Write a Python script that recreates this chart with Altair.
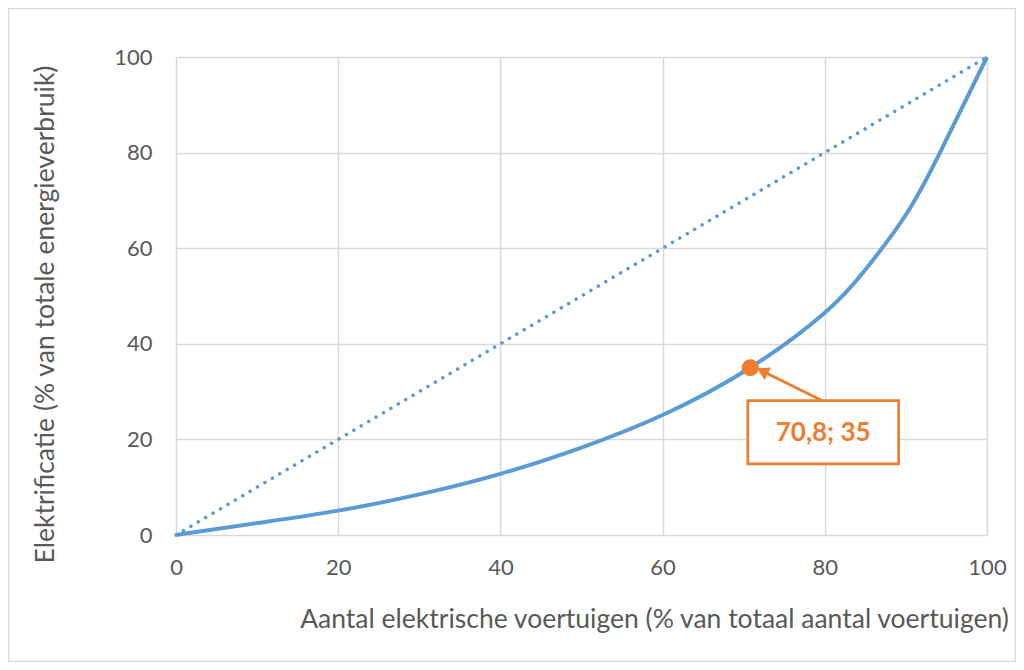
import altair as alt
import pandas as pd

# ---- data ----
curve_x = [0, 10, 20, 30, 40, 50, 60, 70.8, 80, 85, 90, 94.2, 100]
curve_y = [0, 2.5, 5.1, 8.5, 12.8, 18.3, 25.1, 35, 46.5, 55.5, 67, 80, 100]
diag_x = [0, 100]
diag_y = [0, 100]
point_x = [70.8]
point_y = [35]
point_label = ["70,8; 35"]
x_ticks = [0, 20, 40, 60, 80, 100]
y_ticks = [0, 20, 40, 60, 80, 100]

x_title = "Aantal elektrische voertuigen (% van totaal aantal voertuigen)"
y_title = "Elektrificatie (% van totale energieverbruik)"

# annotation box (data units) relative layout
box_x = [70.5, 89.1]
box_y = [14.9, 28.1]
arrow_from = [79.7, 28.1]
arrow_to = [72.3, 34.3]

BLUE = "#5B9BD5"
ORANGE = "#ED7D31"
GRID = "#D9D9D9"
TXT = "#595959"
FONT = "Lato"

curve_df = pd.DataFrame({"x": curve_x, "y": curve_y})
diag_df = pd.DataFrame({"x": diag_x, "y": diag_y})
pt_df = pd.DataFrame({"x": point_x, "y": point_y, "label": point_label})
box_df = pd.DataFrame({"x": [box_x[0]], "x2": [box_x[1]], "y": [box_y[0]], "y2": [box_y[1]]})
arrow_df = pd.DataFrame({"x": [arrow_from[0], arrow_to[0]], "y": [arrow_from[1], arrow_to[1]]})
head_df = pd.DataFrame({"x": [arrow_to[0]], "y": [arrow_to[1]]})
lab_df = pd.DataFrame({"x": [(box_x[0] + box_x[1]) / 2], "y": [(box_y[0] + box_y[1]) / 2],
                       "label": point_label})

xs = alt.Scale(domain=[0, 100], nice=False, zero=False)
ys = alt.Scale(domain=[0, 100], nice=False, zero=False)

x_axis = alt.Axis(values=x_ticks, title=x_title, grid=True, gridColor=GRID, gridWidth=1.5,
                  domain=False, ticks=False, labelPadding=22, labelFontSize=22,
                  labelColor=TXT, labelFont=FONT, titleFont=FONT, titleFontSize=26.5,
                  titleFontWeight="normal", titleColor=TXT, titleX=478, titleY=92,
                  titleAlign="center", titleBaseline="alphabetic", labelFlush=False)
y_axis = alt.Axis(values=y_ticks, title=y_title, grid=True, gridColor=GRID, gridWidth=1.5,
                  domain=False, ticks=False, labelPadding=24, labelFontSize=22,
                  labelColor=TXT, labelFont=FONT, titleFont=FONT, titleFontSize=26.5,
                  titleFontWeight="normal", titleColor=TXT, titleX=-123, titleY=257,
                  titleAlign="center", titleBaseline="alphabetic", titleAngle=270,
                  labelFlush=False)

frame = alt.Chart(pd.DataFrame({"a": [0]})).mark_rect(
    fill=None, stroke=GRID, strokeWidth=1.5, clip=False
).encode(x=alt.value(-167.5), x2=alt.value(839.5), y=alt.value(-48.5), y2=alt.value(604.5))

diag = alt.Chart(diag_df).mark_line(
    color=BLUE, strokeWidth=3.5, strokeDash=[0.1, 8.5], strokeCap="round"
).encode(x=alt.X("x:Q", scale=xs, axis=x_axis), y=alt.Y("y:Q", scale=ys, axis=y_axis))

curve = alt.Chart(curve_df).mark_line(
    color=BLUE, strokeWidth=4, interpolate="natural"
).encode(x=alt.X("x:Q", scale=xs), y=alt.Y("y:Q", scale=ys))

arrow = alt.Chart(arrow_df).mark_line(color=ORANGE, strokeWidth=2.7).encode(
    x=alt.X("x:Q", scale=xs), y=alt.Y("y:Q", scale=ys))

head = alt.Chart(head_df).mark_point(
    shape="triangle-up", angle=296, size=200, filled=True, color=ORANGE, opacity=1
).encode(x=alt.X("x:Q", scale=xs), y=alt.Y("y:Q", scale=ys))

box = alt.Chart(box_df).mark_rect(fill="white", stroke=ORANGE, strokeWidth=2.7).encode(
    x=alt.X("x:Q", scale=xs), x2="x2:Q", y=alt.Y("y:Q", scale=ys), y2="y2:Q")

lab = alt.Chart(lab_df).mark_text(
    font=FONT, fontSize=26, fontWeight="bold", color=ORANGE, baseline="middle", align="center", dy=1
).encode(x=alt.X("x:Q", scale=xs), y=alt.Y("y:Q", scale=ys), text="label:N")

pt = alt.Chart(pt_df).mark_circle(size=290, color=ORANGE, opacity=1).encode(
    x=alt.X("x:Q", scale=xs), y=alt.Y("y:Q", scale=ys))

chart = alt.layer(frame, diag, curve, arrow, box, lab, head, pt).properties(
    width=811, height=478,
    autosize=alt.AutoSizeParams(type="none"),
    padding={"left": 168, "top": 49, "right": 29, "bottom": 127},
    background="white",
).configure_view(stroke=None)

chart.save("out.html", embed_options={"renderer": "svg", "actions": False})
